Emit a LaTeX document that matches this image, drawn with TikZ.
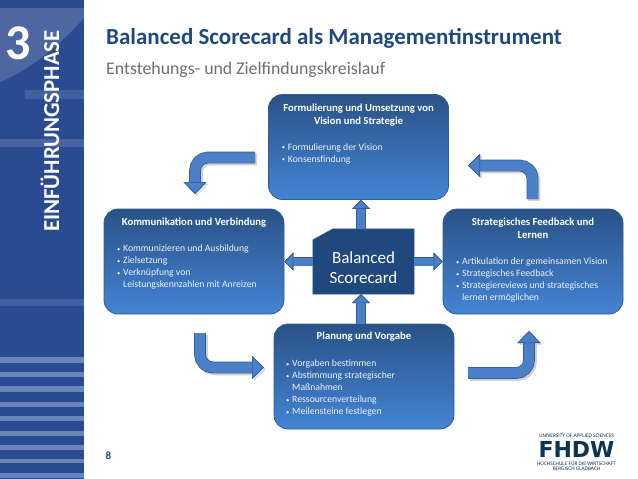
\documentclass[tikz,border=0pt]{standalone}
\usepackage{fontspec}
\setmainfont{Carlito}
\newfontfamily\logofont{DejaVu Sans}
\usepackage{xcolor}
\usetikzlibrary{positioning,arrows.meta}
\definecolor{boxtop}{RGB}{42,82,135}
\definecolor{boxbot}{RGB}{68,132,212}
\definecolor{boxline}{RGB}{48,92,145}
\definecolor{centerclr}{RGB}{31,73,125}
\definecolor{arrclr}{RGB}{75,128,200}
\definecolor{arredge}{RGB}{52,92,150}
\definecolor{sideclr}{RGB}{42,74,145}
\definecolor{stripeclr}{RGB}{106,133,184}
\definecolor{titleclr}{RGB}{31,73,125}
\definecolor{subclr}{RGB}{110,110,110}
\definecolor{logoclr}{RGB}{15,50,85}
\newcommand{\bitem}[1]{\makebox[6pt][l]{\raisebox{.6pt}{\fontsize{6.5}{6.5}\selectfont\textbullet}}#1}
\newcommand{\bcont}[1]{\hspace*{6pt}#1}
\tikzset{
  stagebox/.style={rounded corners=14pt,draw=boxline,thick,top color=boxtop,
                   bottom color=boxbot,minimum width=180pt,minimum height=105pt},
  boxtitle/.style={text=white,align=center,font=\fontsize{10.7}{13}\selectfont\bfseries},
  boxlist/.style={text=white!90!boxbot,align=left,font=\fontsize{9.7}{12}\selectfont},
  blockarr/.style={line width=8pt,draw=arrclr,
                   -{Triangle[length=9pt,width=18pt,color=arredge,fill=arrclr,line width=.7pt]},
                   preaction={draw=arredge,line width=9.2pt}},
  curvearr/.style={rounded corners=13pt,line width=10.5pt,draw=arrclr,
                   -{Triangle[length=12pt,width=23pt,color=arredge,fill=arrclr,line width=.7pt]},
                   preaction={draw=arredge,line width=11.7pt},
                   preaction={draw=black,opacity=.18,line width=12pt,
                              transform canvas={shift={(1.8pt,-1.8pt)}}}},
}
\begin{document}
\begin{tikzpicture}[x=1pt,y=-1pt]
\useasboundingbox (0,0) rectangle (638,479);
% side band
\fill[sideclr] (0,0) rectangle (84,479);
\fill[white,opacity=.16] (0,82) .. controls (30,70) and (60,45) .. (84,18) -- (84,8) -- (0,8) -- cycle;
\fill[white,opacity=.12] (25,90) rectangle (84,99);
\fill[white,opacity=.15] (0,139) rectangle (84,147);
\fill[white,opacity=.12] (0,299) rectangle (84,306);
\foreach \ya/\yb in {357/363,372/377,386/392,402/407,416/421,431/436,445/450,459/463,473/478}
  \fill[stripeclr] (0,\ya) rectangle (84,\yb);
\node[text=white,font=\fontsize{50}{50}\selectfont\bfseries] (chapno) at (18,43) {3};
\node[text=white,rotate=90,font=\fontsize{22.8}{23}\selectfont\bfseries] (chapname) at (50,131) {EINFÜHRUNGSPHASE};
% headings
\node[anchor=west,inner sep=0pt,text=titleclr,font=\fontsize{23}{26}\selectfont\bfseries] (title) at (106,38) {Balanced Scorecard als Managementinstrument};
\node[anchor=west,inner sep=0pt,text=subclr,font=\fontsize{17.8}{20}\selectfont] (subtitle) at (106,69.5) {Entstehungs- und Zielfindungskreislauf};
% boxes
\node[stagebox] (form) at (358.5,147) {};
\node[stagebox] (komm) at (194,261.5) {};
\node[stagebox] (feed) at (533,261.5) {};
\node[stagebox] (plan) at (364,376.5) {};
\node[boxtitle,anchor=north] (formt) at ([yshift=-6pt]form.north) {Formulierung und Umsetzung von\\Vision und Strategie};
\node[boxlist,anchor=north west] (forml) at (278.4,140) {\bitem{Formulierung der Vision}\\\bitem{Konsensfindung}};
\node[boxtitle,anchor=north] (kommt) at ([yshift=-6pt]komm.north) {Kommunikation und Verbindung};
\node[boxlist,anchor=north west] (komml) at (113.7,241.7) {\bitem{Kommunizieren und Ausbildung}\\\bitem{Zielsetzung}\\\bitem{Verknüpfung von}\\\bcont{Leistungskennzahlen mit Anreizen}};
\node[boxtitle,anchor=north] (feedt) at ([yshift=-6pt]feed.north) {Strategisches Feedback und\\Lernen};
\node[boxlist,anchor=north west] (feedl) at (452.7,254.7) {\bitem{Artikulation der gemeinsamen Vision}\\\bitem{Strategisches Feedback}\\\bitem{Strategiereviews und strategisches}\\\bcont{lernen ermöglichen}};
\node[boxtitle,anchor=north] (plant) at ([yshift=-5pt]plan.north) {Planung und Vorgabe};
\node[boxlist,anchor=north west] (planl) at (282.7,356.7) {\bitem{Vorgaben bestimmen}\\\bitem{Abstimmung strategischer}\\\bcont{Maßnahmen}\\\bitem{Ressourcenverteilung}\\\bitem{Meilensteine festlegen}};
% centre block
\node[minimum width=101pt,minimum height=65pt,inner sep=0pt] (bsc) at (363.5,261.5) {};
\draw[fill=centerclr,draw=boxline] ([yshift=-11pt]bsc.north west) -- ([xshift=20pt]bsc.north west)
  -- (bsc.north east) -- (bsc.south east) -- (bsc.south west) -- cycle;
\node[text=white,align=center,font=\fontsize{17}{19.5}\selectfont] (bsct) at (363.5,267.5) {Balanced\\Scorecard};
% straight arrows
\draw[blockarr] ([xshift=-2.5pt]bsc.north) -- ([xshift=2.5pt]form.south);
\draw[blockarr] (bsc.west) -- (komm.east);
\draw[blockarr] (bsc.east) -- (feed.west);
\draw[blockarr] ([xshift=-3pt]plan.north) -- ([xshift=-2.5pt]bsc.south);
% curved arrows
\coordinate (fk0) at (255,157.5); \coordinate (fk1) at (195,194);
\coordinate (kp0) at (200,333);   \coordinate (kp1) at (264,367.5);
\coordinate (pf0) at (468,373);   \coordinate (pf1) at (529,331);
\coordinate (ff0) at (532.5,199); \coordinate (ff1) at (468,165.5);
\draw[curvearr] (fk0) -| (fk1);
\draw[curvearr] (kp0) |- (kp1);
\draw[curvearr] (pf0) -| (pf1);
\draw[curvearr] (ff0) |- (ff1);
% footer
\node[text=titleclr,font=\fontsize{11}{12}\selectfont\bfseries] (pageno) at (108.5,456) {8};
\node[text=logoclr,inner sep=0pt,font=\fontsize{5.4}{5.4}\selectfont] (logotop) at (576.5,436) {UNIVERSITY OF APPLIED SCIENCES};
\node[text=logoclr,inner sep=0pt,anchor=base,font=\logofont\fontsize{22}{22}\selectfont\bfseries] (logo) at (576.5,457.5) {FHDW};
\node[text=logoclr,inner sep=0pt,align=center,font=\fontsize{5.4}{5.5}\selectfont] (logobot) at (576.5,466) {HOCHSCHULE FÜR DIE WIRTSCHAFT\\BERGISCH GLADBACH};
\end{tikzpicture}
\end{document}
